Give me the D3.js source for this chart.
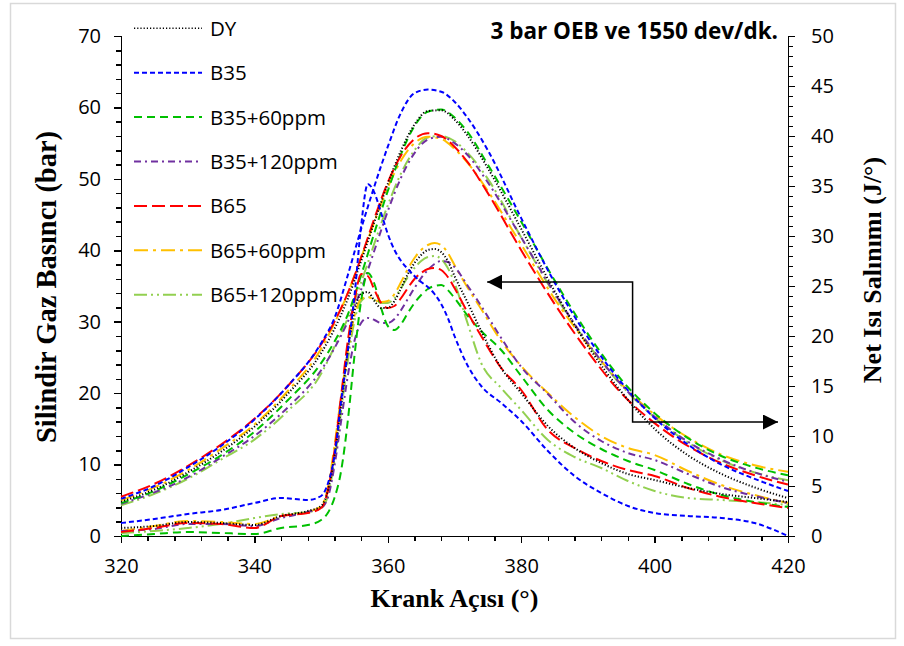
<!DOCTYPE html>
<meta charset="utf-8">
<style>
body { margin: 0; background: #fff; }
svg { display: block; }
.axis path, .axis line { stroke: #000; stroke-width: 1.5px; shape-rendering: crispEdges; }
.axis text { font: 20px "Open Sans", sans-serif; fill: #000; }
.axis-title { font: bold 26px "Liberation Serif", serif; fill: #000; }
.legend text { font: 20.5px "Open Sans", sans-serif; fill: #000; }
.curve { fill: none; stroke-width: 2px; }
.title { font: bold 22.5px "Open Sans", sans-serif; fill: #000; }
</style>
<body>
<div id="chart"></div>
<script src="https://d3js.org/d3.v7.min.js"></script>
<script>
// crank angles (°)
var angleP = [320, 325, 330, 335, 340, 345, 350, 352, 354, 356, 358, 360, 362, 364, 366, 368, 370, 372, 375, 380, 385, 390, 395, 400, 405, 410, 415, 420];
var angleH = [320, 325, 330, 335, 340, 344, 348, 350, 351, 352, 353, 354, 355, 356, 357, 358, 359, 360, 361, 362, 363, 364, 365, 366, 367, 368, 369, 370, 372, 374, 377, 380, 384, 388, 392, 396, 400, 405, 410, 415, 420];

// cylinder pressure (bar)
var pressDY   = [4.8, 6.5, 8.9, 11.8, 15.3, 19.9, 25.6, 29.0, 33.2, 38.5, 44.0, 49.3, 54.0, 57.6, 59.5, 59.6, 58.3, 56.0, 51.5, 43.0, 34.3, 26.6, 20.2, 15.0, 11.3, 8.7, 6.8, 5.3];
var pressB35  = [5.2, 7.0, 9.6, 12.6, 16.3, 21.0, 27.0, 30.5, 36.5, 43.0, 49.0, 54.5, 59.3, 62.0, 62.5, 62.2, 60.8, 58.5, 54.0, 44.5, 35.5, 27.8, 21.5, 16.5, 12.8, 10.0, 8.0, 6.3];
var pressB35a = [4.6, 6.3, 8.6, 11.3, 14.6, 19.0, 24.2, 27.2, 31.0, 36.5, 42.5, 48.3, 53.5, 57.4, 59.4, 59.7, 58.6, 56.5, 52.0, 44.0, 35.8, 28.3, 21.9, 17.2, 13.7, 11.2, 9.6, 8.5];
var pressB35b = [4.5, 6.1, 8.2, 11.0, 14.0, 18.0, 23.2, 26.3, 30.0, 34.5, 40.0, 45.5, 50.2, 53.6, 55.5, 55.9, 55.0, 53.3, 49.5, 41.8, 34.0, 27.0, 21.2, 16.7, 13.2, 10.7, 8.9, 7.6];
var pressB65  = [5.5, 7.3, 9.8, 12.8, 16.4, 21.0, 26.8, 30.0, 34.0, 39.0, 44.5, 49.5, 53.3, 55.6, 56.4, 56.0, 54.5, 52.3, 48.0, 40.0, 32.5, 25.8, 20.0, 15.8, 12.6, 10.2, 8.5, 7.2];
var pressB65a = [5.0, 6.8, 9.2, 12.2, 15.6, 20.3, 26.2, 29.8, 34.0, 39.0, 44.0, 48.8, 52.6, 55.0, 55.9, 55.6, 54.2, 52.2, 48.3, 40.8, 33.2, 26.8, 21.3, 17.0, 13.8, 11.4, 9.9, 9.0];
var pressB65b = [4.3, 5.9, 8.0, 10.7, 13.5, 17.5, 22.7, 26.5, 30.5, 35.5, 41.0, 46.3, 50.8, 54.0, 55.8, 56.0, 55.3, 53.6, 50.0, 41.8, 33.8, 26.9, 21.1, 16.6, 13.1, 10.6, 8.9, 7.8];

// net heat release (J/°)
var heatDY   = [0.8, 1.0, 1.4, 1.3, 1.1, 2.0, 2.5, 3.0, 4.5, 8.0, 13.0, 18.5, 22.5, 24.2, 24.4, 23.5, 22.8, 22.8, 23.5, 24.8, 26.2, 27.3, 28.1, 28.6, 28.7, 28.4, 27.5, 26.0, 23.3, 20.5, 16.8, 14.3, 11.0, 8.8, 7.3, 6.2, 5.6, 4.8, 4.2, 3.8, 3.4];
var heatB35  = [1.3, 1.7, 2.2, 2.6, 3.3, 3.8, 3.6, 4.0, 5.2, 8.0, 13.5, 18.5, 24.0, 31.0, 35.2, 34.3, 32.3, 30.2, 28.6, 27.5, 26.7, 26.0, 25.4, 24.9, 24.2, 23.2, 21.8, 20.0, 17.0, 15.0, 13.3, 11.5, 8.5, 6.0, 4.3, 3.0, 2.3, 2.0, 1.8, 1.3, 0.0];
var heatB35a = [0.0, 0.2, 0.4, 0.3, 0.2, 0.8, 1.1, 1.6, 2.3, 3.8, 6.5, 11.5, 18.0, 23.5, 26.3, 25.2, 22.8, 21.0, 20.6, 21.2, 22.3, 23.3, 24.1, 24.7, 25.0, 25.1, 24.6, 23.8, 22.0, 20.5, 18.6, 16.0, 12.6, 10.3, 8.7, 7.5, 6.6, 5.2, 4.1, 3.4, 2.9];
var heatB35b = [0.5, 0.7, 1.2, 1.2, 1.0, 1.8, 2.4, 2.8, 3.8, 7.0, 11.5, 16.0, 19.5, 21.3, 21.8, 21.6, 21.3, 21.3, 21.7, 22.6, 23.7, 24.8, 25.8, 26.6, 27.2, 27.5, 27.4, 26.9, 25.0, 23.0, 19.8, 16.9, 14.2, 11.4, 9.5, 8.3, 7.6, 6.2, 4.9, 4.0, 3.3];
var heatB65  = [0.4, 0.8, 1.3, 1.2, 0.8, 2.0, 2.3, 2.8, 4.5, 8.5, 14.0, 19.5, 23.5, 26.2, 26.0, 24.6, 23.3, 22.8, 23.0, 23.8, 24.8, 25.7, 26.3, 26.7, 26.8, 26.6, 25.9, 24.8, 22.3, 20.0, 16.8, 14.6, 10.6, 8.8, 7.5, 6.6, 6.0, 4.8, 3.9, 3.3, 2.8];
var heatB65a = [0.5, 1.0, 1.5, 1.4, 1.2, 2.0, 2.4, 3.0, 4.8, 9.0, 14.0, 18.5, 22.0, 23.7, 23.9, 23.6, 23.4, 23.5, 24.2, 25.4, 26.7, 27.8, 28.6, 29.1, 29.3, 29.1, 28.3, 27.1, 24.8, 22.7, 19.5, 17.0, 14.3, 11.9, 10.0, 8.8, 8.1, 6.5, 5.1, 4.1, 3.3];
var heatB65b = [0.3, 0.5, 0.8, 1.2, 1.8, 2.2, 2.4, 2.8, 4.0, 7.5, 12.5, 17.5, 21.5, 23.5, 23.9, 23.6, 23.3, 23.3, 23.8, 24.8, 25.9, 26.8, 27.5, 27.9, 28.0, 27.7, 26.8, 25.3, 21.2, 17.3, 14.8, 12.6, 9.6, 7.9, 6.8, 5.5, 4.5, 3.8, 3.6, 3.4, 3.1];

var names  = ["DY", "B35", "B35+60ppm", "B35+120ppm", "B65", "B65+60ppm", "B65+120ppm"];
var colors = ["#000000", "#0000ff", "#00c000", "#7030a0", "#ff0000", "#ffc000", "#92d050"];
var dashes = ["1.2,2", "5,3", "8,5", "7,4,2,4", "13,5", "14,5,3,5", "13,4,2,4,2,4"];

var pressAll = [pressDY, pressB35, pressB35a, pressB35b, pressB65, pressB65a, pressB65b];
var heatAll  = [heatDY, heatB35, heatB35a, heatB35b, heatB65, heatB65a, heatB65b];

// arrow annotation in data units: [angle, J/°]
var arrowPts = [[374.9, 25.4], [396.7, 25.4], [396.7, 11.4], [418.5, 11.4]];

var W = 904, H = 646,
    margin = { top: 36, right: 116, bottom: 110, left: 121 },
    width = W - margin.left - margin.right,
    height = H - margin.top - margin.bottom;

var svg = d3.select("#chart").append("svg")
    .attr("width", W)
    .attr("height", H);

svg.append("rect")
    .attr("x", 10.5).attr("y", 3.5)
    .attr("width", 885).attr("height", 635)
    .attr("fill", "#fff")
    .attr("stroke", "#d9d9d9")
    .attr("stroke-width", 1.5);

var defs = svg.append("defs");
defs.append("marker")
    .attr("id", "arrow")
    .attr("markerUnits", "userSpaceOnUse")
    .attr("markerWidth", 16).attr("markerHeight", 15)
    .attr("refX", 15).attr("refY", 7.5)
    .attr("orient", "auto-start-reverse")
    .append("path")
    .attr("d", "M0,0L15,7.5L0,15Z")
    .attr("fill", "#000");

var g = svg.append("g")
    .attr("transform", "translate(" + margin.left + "," + margin.top + ")");

var x = d3.scaleLinear().domain([320, 420]).range([0, width]);
var yP = d3.scaleLinear().domain([0, 70]).range([height, 0]);
var yH = d3.scaleLinear().domain([0, 50]).range([height, 0]);

// minor ticks
g.append("g").attr("class", "axis")
    .attr("transform", "translate(0," + height + ")")
    .call(d3.axisBottom(x).tickValues(d3.range(320, 421, 4)).tickSize(5).tickFormat(""));
g.append("g").attr("class", "axis")
    .call(d3.axisLeft(yP).tickValues(d3.range(0, 71, 2)).tickSize(5).tickFormat(""));
g.append("g").attr("class", "axis")
    .attr("transform", "translate(" + width + ",0)")
    .call(d3.axisRight(yH).tickValues(d3.range(0, 51, 1)).tickSize(5).tickFormat(""));

// major ticks
g.append("g").attr("class", "axis")
    .attr("transform", "translate(0," + height + ")")
    .call(d3.axisBottom(x).tickValues(d3.range(320, 421, 20)).tickSize(7).tickPadding(16));
g.append("g").attr("class", "axis")
    .call(d3.axisLeft(yP).tickValues(d3.range(0, 71, 10)).tickSize(7).tickPadding(13));
g.append("g").attr("class", "axis")
    .attr("transform", "translate(" + width + ",0)")
    .call(d3.axisRight(yH).tickValues(d3.range(0, 51, 5)).tickSize(7).tickPadding(16));

var lineP = d3.line()
    .x(function(d, i) { return x(angleP[i]); })
    .y(function(d) { return yP(d); })
    .curve(d3.curveMonotoneX);
var lineH = d3.line()
    .x(function(d, i) { return x(angleH[i]); })
    .y(function(d) { return yH(d); })
    .curve(d3.curveMonotoneX);

var order = [6, 5, 3, 2, 4, 0, 1];
order.forEach(function(k) {
    g.append("path").attr("class", "curve")
        .attr("d", lineH(heatAll[k]))
        .attr("stroke", colors[k])
        .attr("stroke-width", k === 0 ? 1.6 : 2)
        .attr("stroke-dasharray", dashes[k]);
    g.append("path").attr("class", "curve")
        .attr("d", lineP(pressAll[k]))
        .attr("stroke", colors[k])
        .attr("stroke-width", k === 0 ? 1.6 : 2)
        .attr("stroke-dasharray", dashes[k]);
});

// arrows
g.append("path")
    .attr("d", d3.line().x(function(d) { return x(d[0]); }).y(function(d) { return yH(d[1]); })(arrowPts))
    .attr("fill", "none")
    .attr("stroke", "#000")
    .attr("stroke-width", 1.5)
    .attr("marker-start", "url(#arrow)")
    .attr("marker-end", "url(#arrow)");

// legend
var legend = svg.selectAll(".legend")
    .data(names)
    .enter().append("g")
    .attr("class", "legend")
    .attr("transform", function(d, i) { return "translate(134," + (28.3 + i * 44.4) + ")"; });

legend.append("line")
    .attr("x1", 0).attr("x2", 68)
    .attr("stroke", function(d, i) { return colors[i]; })
    .attr("stroke-width", function(d, i) { return i === 0 ? 1.6 : 2; })
    .attr("stroke-dasharray", function(d, i) { return dashes[i]; });

legend.append("text")
    .attr("x", 76)
    .attr("dy", ".37em")
    .text(function(d) { return d; });

// titles
svg.append("text")
    .attr("class", "title")
    .attr("x", 778).attr("y", 39)
    .attr("text-anchor", "end")
    .text("3 bar OEB ve 1550 dev/dk.");

svg.append("text")
    .attr("class", "axis-title")
    .attr("x", margin.left + width / 2).attr("y", 607)
    .attr("text-anchor", "middle")
    .text("Krank Açısı (°)");

svg.append("text")
    .attr("class", "axis-title")
    .style("font-size", "28.5px")
    .attr("transform", "translate(56,287) rotate(-90)")
    .attr("text-anchor", "middle")
    .text("Silindir Gaz Basıncı (bar)");

svg.append("text")
    .attr("class", "axis-title")
    .attr("transform", "translate(881,270) rotate(-90)")
    .attr("text-anchor", "middle")
    .text("Net Isı Salınımı (J/°)");
</script>
</body>
